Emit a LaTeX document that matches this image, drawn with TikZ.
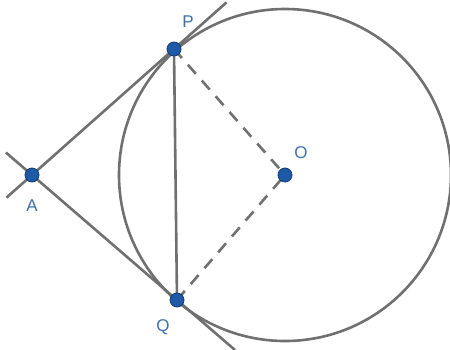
\documentclass[tikz,border=0pt]{standalone}
\usepackage{fontspec}
\setmainfont{Liberation Sans}
\usetikzlibrary{calc}
\definecolor{linegray}{HTML}{707070}
\definecolor{ptfill}{HTML}{1E5AA8}
\definecolor{ptdraw}{HTML}{123A70}
\definecolor{lblblue}{HTML}{3E6FA8}
\begin{document}
\begin{tikzpicture}[x=1pt,y=-1pt,
  geoline/.style={draw=linegray,line width=2.6pt},
  dashline/.style={draw=linegray,line width=2.6pt,dash pattern=on 12pt off 9pt},
  gpoint/.style={circle,fill=ptfill,draw=ptdraw,line width=0.8pt,inner sep=0pt,minimum size=14pt},
  glabel/.style={text=lblblue,font=\fontsize{17}{17}\selectfont,inner sep=0pt}]
\useasboundingbox (0,0) rectangle (450,349);
\coordinate (A) at (32,175);
\coordinate (P) at (174,49);
\coordinate (Q) at (177,300);
\coordinate (O) at (285,175);
\draw[geoline] (O) circle[radius=166];
\coordinate (e1) at ($(A)!-0.18!(P)$);
\coordinate (e2) at ($(A)!1.37!(P)$);
\coordinate (e3) at ($(A)!-0.18!(Q)$);
\coordinate (e4) at ($(A)!1.4!(Q)$);
\draw[geoline] (e1) -- (e2);
\draw[geoline] (e3) -- (e4);
\draw[geoline] (P) -- (Q);
\draw[dashline] (P) -- (O);
\draw[dashline] (Q) -- (O);
\node[gpoint] (nA) at (A) {};
\node[gpoint] (nP) at (P) {};
\node[gpoint] (nQ) at (Q) {};
\node[gpoint] (nO) at (O) {};
\node[glabel] (lA) at (32,206) {A};
\node[glabel] (lP) at (188,22) {P};
\node[glabel] (lQ) at (163,327) {Q};
\node[glabel] (lO) at (301,153) {O};
\end{tikzpicture}
\end{document}
